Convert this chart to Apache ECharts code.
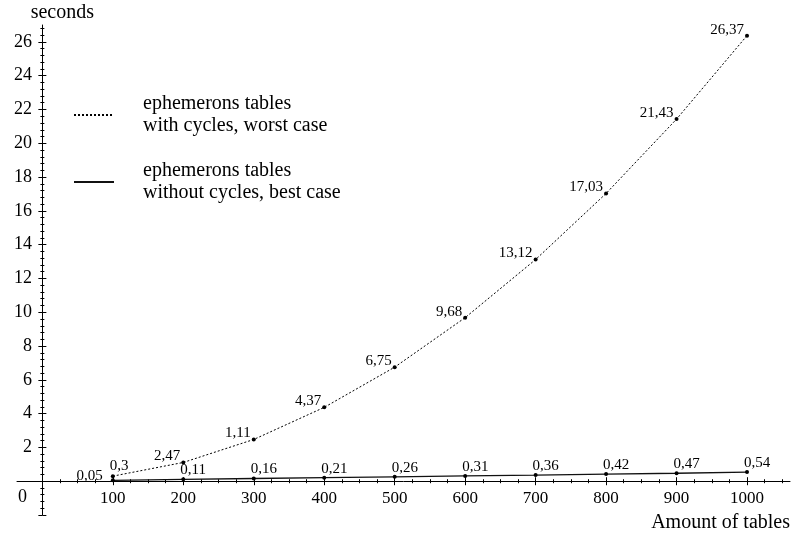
<!DOCTYPE html>
<html><head><meta charset="utf-8">
<script src="https://cdn.jsdelivr.net/npm/echarts@6/dist/echarts.min.js"></script>
<style>html,body{margin:0;padding:0;background:#fff}#c{width:792px;height:534px}</style>
</head><body><div id="c"></div>
<script>
const tables = [100, 200, 300, 400, 500, 600, 700, 800, 900, 1000];
const worstCase = [0.3, 1.11, 2.47, 4.37, 6.75, 9.68, 13.12, 17.03, 21.43, 26.37];
const worstLabels = ['0,3', '2,47', '1,11', '4,37', '6,75', '9,68', '13,12', '17,03', '21,43', '26,37'];
const bestCase = [0.05, 0.11, 0.16, 0.21, 0.26, 0.31, 0.36, 0.42, 0.47, 0.54];
const bestLabels = ['0,05', '0,11', '0,16', '0,21', '0,26', '0,31', '0,36', '0,42', '0,47', '0,54'];
const worstName = 'ephemerons tables\nwith cycles, worst case';
const bestName = 'ephemerons tables\nwithout cycles, best case';
const xTickValues = [100, 200, 300, 400, 500, 600, 700, 800, 900, 1000];
const xMinorValues = [25, 50, 75, 125, 150, 175, 225, 250, 275, 325, 350, 375, 425, 450, 475, 525, 550, 575, 625, 650, 675, 725, 750, 775, 825, 850, 875, 925, 950, 975, 1025, 1050];
const yTickValues = [-2, 0, 2, 4, 6, 8, 10, 12, 14, 16, 18, 20, 22, 24, 26];
const yMinorValues = [-1.6, -1.2, -0.8, -0.4, 0.4, 0.8, 1.2, 1.6, 2.4, 2.8, 3.2, 3.6, 4.4, 4.8, 5.2, 5.6, 6.4, 6.8, 7.2, 7.6, 8.4, 8.8, 9.2, 9.6, 10.4, 10.8, 11.2, 11.6, 12.4, 12.8, 13.2, 13.6, 14.4, 14.8, 15.2, 15.6, 16.4, 16.8, 17.2, 17.6, 18.4, 18.8, 19.2, 19.6, 20.4, 20.8, 21.2, 21.6, 22.4, 22.8, 23.2, 23.6, 24.4, 24.8, 25.2, 25.6, 26.4, 26.8];

const FONT = 'Liberation Serif';
const X_MIN = -36, X_MAX = 1061, Y_MIN = -2, Y_MAX = 27;

function tickAxisX(values, len, inside, extra) {
  return Object.assign({
    type: 'value', position: 'bottom', min: X_MIN, max: X_MAX,
    axisLine: { show: false, onZero: true, onZeroAxisIndex: 0 },
    axisTick: { show: true, customValues: values, length: len, inside: inside, lineStyle: { color: '#000', width: 1 } },
    axisLabel: { show: false }, splitLine: { show: false }
  }, extra || {});
}
function tickAxisY(values, len, inside, extra) {
  return Object.assign({
    type: 'value', position: 'left', min: Y_MIN, max: Y_MAX,
    axisLine: { show: false, onZero: true, onZeroAxisIndex: 0 },
    axisTick: { show: true, customValues: values, length: len, inside: inside, lineStyle: { color: '#000', width: 1 } },
    axisLabel: { show: false }, splitLine: { show: false }
  }, extra || {});
}

const chart = echarts.init(document.getElementById('c'), null, { renderer: 'canvas' });
chart.setOption({
  animation: false,
  backgroundColor: '#fff',
  textStyle: { fontFamily: FONT, color: '#000' },
  grid: { left: 17, right: 2, top: 25, bottom: 19, containLabel: false, outerBoundsMode: 'none' },
  legend: {
    orient: 'vertical', left: 68, top: 88, itemWidth: 40, itemHeight: 14, itemGap: 23,
    selectedMode: false,
    itemStyle: { opacity: 0 },
    textStyle: { fontFamily: FONT, fontSize: 20, lineHeight: 22, color: '#000', padding: [0, 0, 0, 24] },
    data: [worstName, bestName]
  },
  xAxis: [
    tickAxisX(xTickValues, 4, false, {
      axisLine: { show: true, onZero: true, onZeroAxisIndex: 0, lineStyle: { color: '#000', width: 1 } },
      axisLabel: { show: true, customValues: xTickValues, margin: -25, fontFamily: FONT, fontSize: 17, color: '#000',
        formatter: v => String(v), hideOverlap: false },
      name: 'Amount of tables', nameLocation: 'end', nameGap: 0, nameMoveOverlap: false,
      nameTextStyle: { fontFamily: FONT, fontSize: 20, color: '#000', align: 'right', verticalAlign: 'top', padding: [32, 0, 0, 0] }
    }),
    tickAxisX(xTickValues, 4, true),
    tickAxisX(xMinorValues, 2, false),
    tickAxisX(xMinorValues, 2, true)
  ],
  yAxis: [
    tickAxisY(yTickValues, 4, false, {
      axisLine: { show: true, onZero: true, onZeroAxisIndex: 0, lineStyle: { color: '#000', width: 1 } },
      axisLabel: {
        show: true, customValues: yTickValues, margin: -15, fontFamily: FONT, fontSize: 18, color: '#000', hideOverlap: false,
        formatter: function (v) { if (v === 0) return '{z|0}'; if (v < 0) return ''; return String(v); },
        rich: { z: { fontFamily: FONT, fontSize: 18, color: '#000', padding: [32, 5, 0, 0] } }
      },
      name: 'seconds', nameLocation: 'end', nameGap: 2, nameMoveOverlap: false,
      nameTextStyle: { fontFamily: FONT, fontSize: 20, color: '#000', align: 'center', verticalAlign: 'bottom', padding: [0, 0, 0, 40] }
    }),
    tickAxisY(yTickValues, 4, true),
    tickAxisY(yMinorValues, 2, false),
    tickAxisY(yMinorValues, 2, true)
  ],
  series: [
    {
      name: worstName, type: 'line',
      data: tables.map((x, i) => {
        const item = { value: [x, worstCase[i]] };
        if (i === 0) item.label = { position: 'right', offset: [-10, -10] };
        return item;
      }),
      symbol: 'circle', symbolSize: 4, showSymbol: true,
      itemStyle: { color: '#000' },
      lineStyle: { color: '#000', width: 1, type: [2, 2] },
      label: {
        show: true, position: 'left', offset: [4, -6], fontFamily: FONT, fontSize: 15, color: '#000',
        formatter: p => worstLabels[p.dataIndex]
      },
      z: 3
    },
    {
      name: bestName, type: 'line',
      data: tables.map((x, i) => {
        const item = { value: [x, bestCase[i]] };
        if (i === 0) item.label = { position: 'left', offset: [-3, -4] };
        return item;
      }),
      symbol: 'circle', symbolSize: 4, showSymbol: true,
      itemStyle: { color: '#000' },
      lineStyle: { color: '#111', width: 1.3, type: 'solid' },
      label: {
        show: true, position: 'right', offset: [-10, -9], fontFamily: FONT, fontSize: 15, color: '#000',
        formatter: p => bestLabels[p.dataIndex]
      },
      z: 3
    }
  ]
});
</script>
</body></html>
